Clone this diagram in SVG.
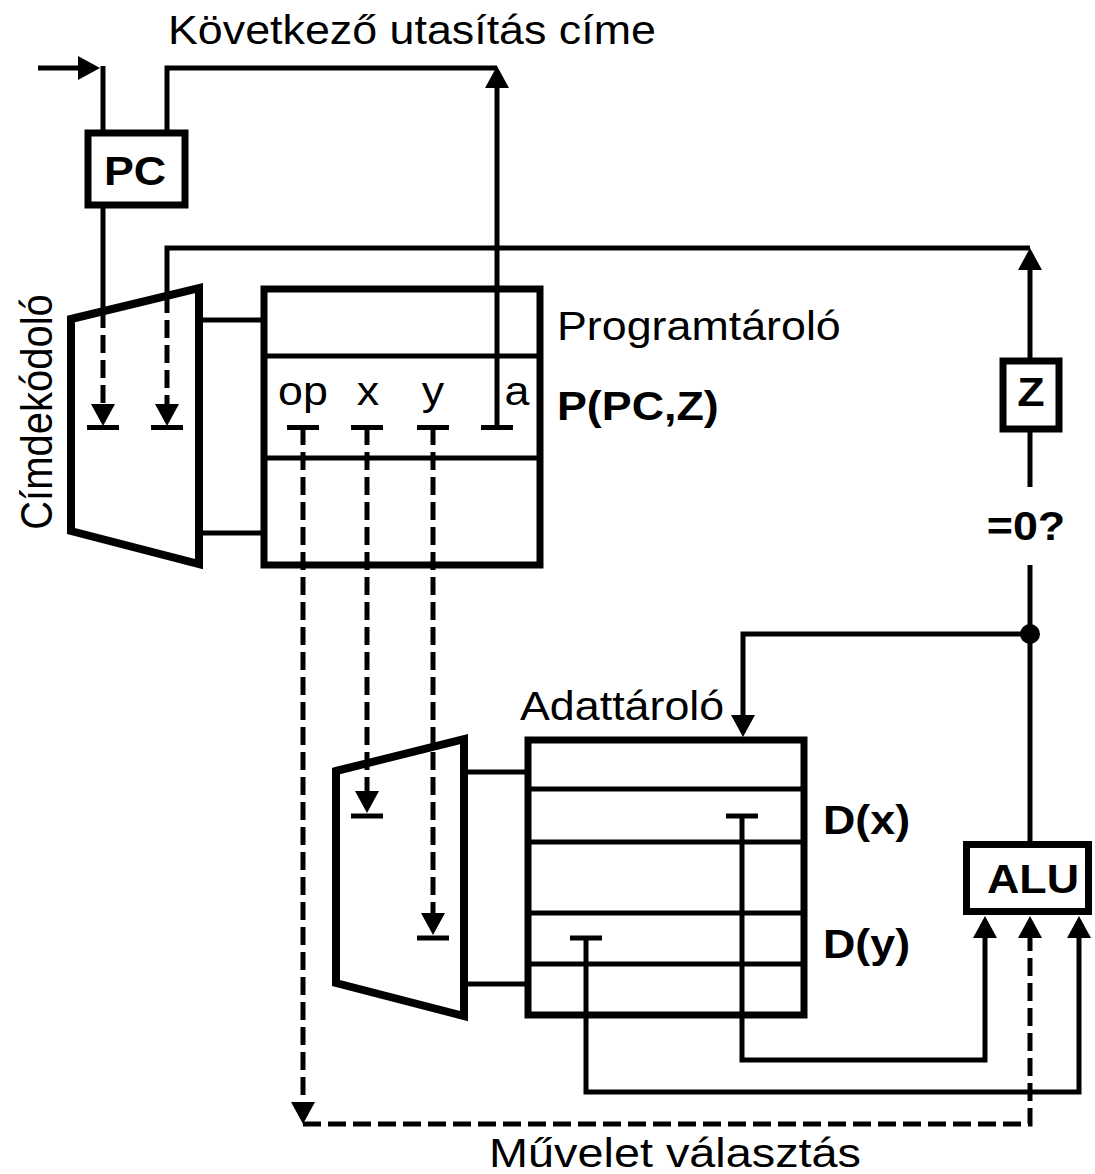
<svg xmlns="http://www.w3.org/2000/svg" width="1095" height="1174" viewBox="0 0 1095 1174">
<style>
.t{font-family:"Liberation Sans",Arial,sans-serif;font-size:40px;fill:#000}
.b{font-weight:bold}
.box{fill:#fff;stroke:#000;stroke-width:7}
.trap{fill:#fff;stroke:#000;stroke-width:8;stroke-linejoin:miter}
.ln{fill:none;stroke:#000;stroke-width:5}
.ds{fill:none;stroke:#000;stroke-width:5;stroke-dasharray:18 7}
.ar{marker-end:url(#ah)}
</style>
<defs>
<marker id="ah" viewBox="0 0 22 24" refX="17" refY="12" markerWidth="22" markerHeight="24" markerUnits="userSpaceOnUse" orient="auto"><path d="M0,0 L22,12 L0,24 z" fill="#000"/></marker>
</defs>
<rect width="1095" height="1174" fill="#fff"/>

<g id="decoder1">
<polygon class="trap" points="71,319 199,288 199,564 71,531"/>
<text class="t" transform="translate(52,412) scale(1.12,1) rotate(-90)" text-anchor="middle">Címdekódoló</text>
</g>

<g id="programtarolo">
<rect class="box" x="264" y="289" width="276" height="276"/>
<line class="ln" x1="264" y1="356" x2="540" y2="356"/>
<line class="ln" x1="264" y1="458" x2="540" y2="458"/>
<text class="t" transform="translate(303,405) scale(1.12,1)" text-anchor="middle">op</text>
<text class="t" transform="translate(368,405) scale(1.12,1)" text-anchor="middle">x</text>
<text class="t" transform="translate(433,405) scale(1.12,1)" text-anchor="middle">y</text>
<text class="t" transform="translate(517,405) scale(1.12,1)" text-anchor="middle">a</text>
<text class="t" transform="translate(557,340) scale(1.12,1)">Programtároló</text>
<text class="t b" transform="translate(557,420) scale(1.12,1)">P(PC,Z)</text>
</g>

<g id="pc">
<rect class="box" x="88" y="133" width="97" height="72"/>
<text class="t b" transform="translate(135,185) scale(1.12,1)" text-anchor="middle">PC</text>
</g>

<g id="z">
<rect class="box" x="1003" y="361" width="56" height="68"/>
<text class="t b" transform="translate(1031,406) scale(1.12,1)" text-anchor="middle">Z</text>
</g>

<g id="decoder2">
<polygon class="trap" points="336,771 464,739 464,1016 336,983"/>
</g>

<g id="adattarolo">
<rect class="box" x="528" y="740" width="276" height="275"/>
<line class="ln" x1="528" y1="789" x2="804" y2="789"/>
<line class="ln" x1="528" y1="842" x2="804" y2="842"/>
<line class="ln" x1="528" y1="913" x2="804" y2="913"/>
<line class="ln" x1="528" y1="964" x2="804" y2="964"/>
<text class="t" transform="translate(520,720) scale(1.12,1)">Adattároló</text>
<text class="t b" transform="translate(823,834) scale(1.12,1)">D(x)</text>
<text class="t b" transform="translate(823,958) scale(1.12,1)">D(y)</text>
</g>

<g id="alu">
<rect class="box" x="966.5" y="844.5" width="122" height="67"/>
<text class="t b" transform="translate(1033,893) scale(1.12,1)" text-anchor="middle">ALU</text>
</g>

<g id="labels">
<text class="t" transform="translate(168,44) scale(1.12,1)">Következő utasítás címe</text>
<text class="t b" transform="translate(1026,540) scale(1.12,1)" text-anchor="middle">=0?</text>
<text class="t" transform="translate(675,1167) scale(1.17,1.03)" text-anchor="middle">Művelet választás</text>
</g>

<g id="connectors">
<path class="ln ar" d="M38,68 H95"/>
<path class="ln" d="M103,66 V133"/>
<path class="ln" d="M103,205 V310"/>
<path class="ds ar" d="M103,310 V421"/>
<path class="ln" d="M167,133 V68 H497"/>
<path class="ln ar" d="M497,427 V71"/>
<path class="ln ar" d="M1030,361 V253"/>
<path class="ln" d="M1030,248 H167 V295"/>
<path class="ds ar" d="M167,295 V421"/>
<path class="ln" d="M1030,429 V487"/>
<path class="ln" d="M1030,565 V844"/>
<circle cx="1030" cy="634" r="10" fill="#000"/>
<path class="ln ar" d="M1030,634 H743 V732"/>
<line class="ln" x1="199" y1="320" x2="264" y2="320"/>
<line class="ln" x1="199" y1="533" x2="264" y2="533"/>
<line class="ln" x1="464" y1="772" x2="528" y2="772"/>
<line class="ln" x1="464" y1="984" x2="528" y2="984"/>
<g class="ln">
<line x1="87" y1="427.5" x2="119" y2="427.5"/>
<line x1="151" y1="427.5" x2="183" y2="427.5"/>
<line x1="287" y1="427.5" x2="319" y2="427.5"/>
<line x1="351" y1="427.5" x2="383" y2="427.5"/>
<line x1="417" y1="427.5" x2="449" y2="427.5"/>
<line x1="481" y1="427.5" x2="513" y2="427.5"/>
<line x1="351" y1="816" x2="383" y2="816"/>
<line x1="417" y1="938" x2="449" y2="938"/>
<line x1="726" y1="816" x2="758" y2="816"/>
<line x1="570" y1="938" x2="602" y2="938"/>
</g>
<path class="ds ar" d="M303,427 V1119"/>
<path class="ds ar" d="M303,1124 H1030 V921"/>
<path class="ds ar" d="M367,427 V808"/>
<path class="ds ar" d="M433,427 V930"/>
<path class="ln ar" d="M742,816 V1060 H985 V921"/>
<path class="ln ar" d="M586,938 V1092 H1079 V921"/>
</g>
</svg>
